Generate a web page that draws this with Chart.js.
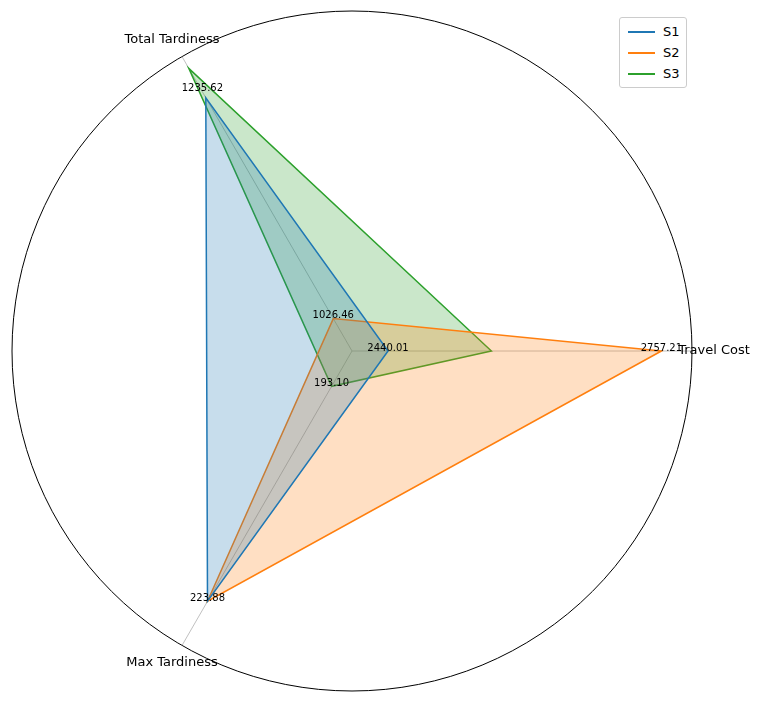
<!DOCTYPE html>
<html><head><meta charset="utf-8">
<script src="https://cdn.jsdelivr.net/npm/chart.js@4"></script>
<style>
body{margin:0;background:#fff;font-family:"DejaVu Sans",sans-serif}
#wrap{position:relative;width:766px;height:711px}
#legend{position:absolute;left:619px;top:17px;width:66px;border:1px solid #ccc;border-radius:3px;padding:3px 0;background:#fff;font-size:13px}
#legend div{display:flex;align-items:center;height:21px;padding-left:8px}
#legend span{display:inline-block;width:27px;height:2px;margin-right:8px}
</style></head><body>
<div id="wrap"><canvas id="c" role="img" aria-label="Radar chart comparing S1, S2, S3 on travel cost, total and max tardiness"></canvas>
<div id="legend"></div></div>
<script>
// axes in clockwise order starting from the right
const axes = ['Travel Cost', 'Max Tardiness', 'Total Tardiness']
const seriesNames = ['S1', 'S2', 'S3']
const colors = ['#1f77b4', '#ff7f0e', '#2ca02c']
// normalized values
const s1 = [0.106, 0.85, 0.86]
const s2 = [0.91, 0.85, 0.11]
const s3 = [0.41, 0.12, 0.96]
// raw value annotations: [axis index, normalized position, text]
const notes = [
  [0, 0.91, '2757.21'], [0, 0.106, '2440.01'],
  [1, 0.85, '223.88'], [1, 0.12, '193.10'],
  [2, 0.88, '1235.62'], [2, 0.11, '1026.46']
]

const values = [s1, s2, s3]
const legend = document.getElementById('legend')
seriesNames.forEach((n, i) => {
  legend.innerHTML += `<div><span style="background:${colors[i]}"></span>${n}</div>`
})

const labelPlugin = {
  id: 'labels',
  afterDatasetsDraw(chart) {
    const g = chart.ctx
    const r = chart.scales.r
    g.save()
    g.fillStyle = '#000'
    g.font = '10px "DejaVu Sans"'
    g.textAlign = 'center'; g.textBaseline = 'middle'
    for (const [i, v, t] of notes) {
      const p = r.getPointPositionForValue(i, v)
      g.fillText(t, p.x, p.y - 3)
    }
    g.font = '13px "DejaVu Sans"'
    const c0 = r.getPointPositionForValue(0, 1.0)
    g.textAlign = 'center'
    g.fillText(axes[0], c0.x + 22, c0.y)
    const c1 = r.getPointPositionForValue(1, 1.0)
    g.fillText(axes[1], c1.x - 10, c1.y + 17)
    const c2 = r.getPointPositionForValue(2, 1.0)
    g.fillText(axes[2], c2.x - 10, c2.y - 17)
    g.restore()
  }
}

new Chart(document.getElementById('c'), {
  type: 'radar',
  data: {
    labels: axes,
    datasets: values.map((d, i) => ({
      label: seriesNames[i], data: d,
      borderColor: colors[i], backgroundColor: colors[i] + '40',
      borderWidth: 1.5, pointRadius: 0, fill: true, tension: 0
    }))
  },
  options: {
    responsive: true, maintainAspectRatio: false, animation: false,
    layout: { padding: { left: 12, right: 74, top: 11, bottom: 20 } },
    plugins: { legend: { display: false }, tooltip: { enabled: false } },
    scales: {
      r: {
        min: 0, max: 1, startAngle: 90,
        ticks: { display: false, stepSize: 1 },
        pointLabels: { display: false },
        grid: { circular: true, color: ctx => ctx.index === 1 || ctx.tick?.value === 1 ? '#000' : 'rgba(0,0,0,0)', lineWidth: 1 },
        angleLines: { color: '#b0b0b0', lineWidth: 0.8 }
      }
    }
  },
  plugins: [labelPlugin]
})
</script>
</body></html>
